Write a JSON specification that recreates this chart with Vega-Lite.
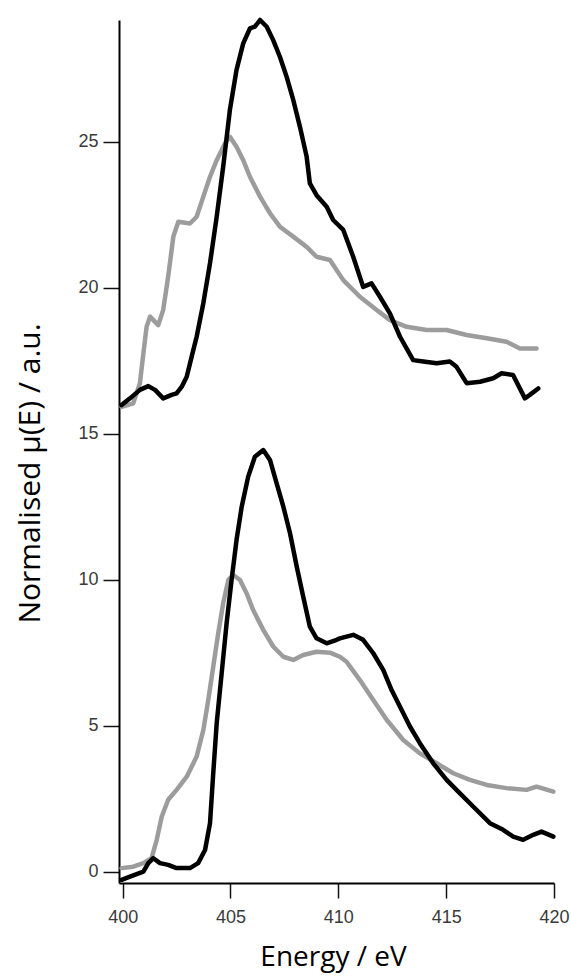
{
  "$schema": "https://vega.github.io/schema/vega-lite/v6.json",
  "width": 435,
  "height": 863,
  "autosize": {"type": "none"},
  "padding": {"left": 119, "top": 20, "right": 17, "bottom": 93},
  "background": "#ffffff",
  "config": {"view": {"stroke": null}},
  "data": {"values": [
    {"p":"upper","s":"black","e":399.95,"v":15.98},{"p":"upper","s":"black","e":400.34,"v":16.21},{"p":"upper","s":"black","e":400.8,"v":16.5},{"p":"upper","s":"black","e":401.19,"v":16.63},{"p":"upper","s":"black","e":401.5,"v":16.5},{"p":"upper","s":"black","e":401.88,"v":16.21},{"p":"upper","s":"black","e":402.27,"v":16.33},{"p":"upper","s":"black","e":402.5,"v":16.38},{"p":"upper","s":"black","e":402.74,"v":16.61},{"p":"upper","s":"black","e":402.97,"v":16.95},{"p":"upper","s":"black","e":403.2,"v":17.64},{"p":"upper","s":"black","e":403.43,"v":18.32},{"p":"upper","s":"black","e":403.74,"v":19.47},{"p":"upper","s":"black","e":404.05,"v":20.84},{"p":"upper","s":"black","e":404.36,"v":22.43},{"p":"upper","s":"black","e":404.66,"v":24.14},{"p":"upper","s":"black","e":404.97,"v":26.08},{"p":"upper","s":"black","e":405.28,"v":27.46},{"p":"upper","s":"black","e":405.59,"v":28.37},{"p":"upper","s":"black","e":405.9,"v":28.88},{"p":"upper","s":"black","e":406.13,"v":28.94},{"p":"upper","s":"black","e":406.37,"v":29.17},{"p":"upper","s":"black","e":406.68,"v":28.94},{"p":"upper","s":"black","e":406.98,"v":28.48},{"p":"upper","s":"black","e":407.29,"v":27.91},{"p":"upper","s":"black","e":407.6,"v":27.23},{"p":"upper","s":"black","e":407.91,"v":26.43},{"p":"upper","s":"black","e":408.22,"v":25.51},{"p":"upper","s":"black","e":408.53,"v":24.49},{"p":"upper","s":"black","e":408.68,"v":23.57},{"p":"upper","s":"black","e":408.99,"v":23.17},{"p":"upper","s":"black","e":409.46,"v":22.77},{"p":"upper","s":"black","e":409.76,"v":22.32},{"p":"upper","s":"black","e":410.23,"v":21.98},{"p":"upper","s":"black","e":410.69,"v":21.06},{"p":"upper","s":"black","e":411.15,"v":20.03},{"p":"upper","s":"black","e":411.54,"v":20.15},{"p":"upper","s":"black","e":411.93,"v":19.69},{"p":"upper","s":"black","e":412.39,"v":19.12},{"p":"upper","s":"black","e":412.86,"v":18.32},{"p":"upper","s":"black","e":413.47,"v":17.52},{"p":"upper","s":"black","e":413.94,"v":17.47},{"p":"upper","s":"black","e":414.56,"v":17.41},{"p":"upper","s":"black","e":415.17,"v":17.47},{"p":"upper","s":"black","e":415.48,"v":17.29},{"p":"upper","s":"black","e":415.95,"v":16.73},{"p":"upper","s":"black","e":416.57,"v":16.78},{"p":"upper","s":"black","e":417.18,"v":16.9},{"p":"upper","s":"black","e":417.57,"v":17.07},{"p":"upper","s":"black","e":418.1,"v":17.01},{"p":"upper","s":"black","e":418.65,"v":16.21},{"p":"upper","s":"black","e":418.88,"v":16.33},{"p":"upper","s":"black","e":419.27,"v":16.55},
    {"p":"upper","s":"gray","e":399.95,"v":15.92},{"p":"upper","s":"gray","e":400.49,"v":16.04},{"p":"upper","s":"gray","e":400.8,"v":16.73},{"p":"upper","s":"gray","e":400.96,"v":17.75},{"p":"upper","s":"gray","e":401.11,"v":18.66},{"p":"upper","s":"gray","e":401.27,"v":19.01},{"p":"upper","s":"gray","e":401.65,"v":18.72},{"p":"upper","s":"gray","e":401.88,"v":19.24},{"p":"upper","s":"gray","e":402.11,"v":20.38},{"p":"upper","s":"gray","e":402.35,"v":21.75},{"p":"upper","s":"gray","e":402.58,"v":22.26},{"p":"upper","s":"gray","e":403.12,"v":22.2},{"p":"upper","s":"gray","e":403.43,"v":22.43},{"p":"upper","s":"gray","e":403.74,"v":23.12},{"p":"upper","s":"gray","e":404.05,"v":23.8},{"p":"upper","s":"gray","e":404.36,"v":24.37},{"p":"upper","s":"gray","e":404.74,"v":24.94},{"p":"upper","s":"gray","e":404.97,"v":25.17},{"p":"upper","s":"gray","e":405.28,"v":24.83},{"p":"upper","s":"gray","e":405.59,"v":24.37},{"p":"upper","s":"gray","e":405.9,"v":23.8},{"p":"upper","s":"gray","e":406.37,"v":23.12},{"p":"upper","s":"gray","e":406.83,"v":22.55},{"p":"upper","s":"gray","e":407.29,"v":22.09},{"p":"upper","s":"gray","e":407.91,"v":21.75},{"p":"upper","s":"gray","e":408.53,"v":21.4},{"p":"upper","s":"gray","e":408.99,"v":21.06},{"p":"upper","s":"gray","e":409.61,"v":20.95},{"p":"upper","s":"gray","e":410.23,"v":20.26},{"p":"upper","s":"gray","e":411.0,"v":19.69},{"p":"upper","s":"gray","e":411.78,"v":19.24},{"p":"upper","s":"gray","e":412.39,"v":18.89},{"p":"upper","s":"gray","e":413.17,"v":18.66},{"p":"upper","s":"gray","e":414.09,"v":18.55},{"p":"upper","s":"gray","e":415.02,"v":18.55},{"p":"upper","s":"gray","e":415.95,"v":18.38},{"p":"upper","s":"gray","e":416.88,"v":18.27},{"p":"upper","s":"gray","e":417.8,"v":18.15},{"p":"upper","s":"gray","e":418.42,"v":17.92},{"p":"upper","s":"gray","e":419.19,"v":17.92},
    {"p":"lower","s":"black","e":399.95,"v":-0.28},{"p":"lower","s":"black","e":400.34,"v":-0.17},{"p":"lower","s":"black","e":400.96,"v":0.0},{"p":"lower","s":"black","e":401.19,"v":0.29},{"p":"lower","s":"black","e":401.42,"v":0.46},{"p":"lower","s":"black","e":401.73,"v":0.29},{"p":"lower","s":"black","e":402.11,"v":0.23},{"p":"lower","s":"black","e":402.5,"v":0.12},{"p":"lower","s":"black","e":403.12,"v":0.12},{"p":"lower","s":"black","e":403.5,"v":0.29},{"p":"lower","s":"black","e":403.82,"v":0.74},{"p":"lower","s":"black","e":404.05,"v":1.66},{"p":"lower","s":"black","e":404.2,"v":3.37},{"p":"lower","s":"black","e":404.36,"v":5.08},{"p":"lower","s":"black","e":404.59,"v":6.79},{"p":"lower","s":"black","e":404.82,"v":8.51},{"p":"lower","s":"black","e":405.05,"v":9.99},{"p":"lower","s":"black","e":405.28,"v":11.36},{"p":"lower","s":"black","e":405.52,"v":12.5},{"p":"lower","s":"black","e":405.82,"v":13.53},{"p":"lower","s":"black","e":406.13,"v":14.21},{"p":"lower","s":"black","e":406.52,"v":14.44},{"p":"lower","s":"black","e":406.83,"v":14.1},{"p":"lower","s":"black","e":407.14,"v":13.3},{"p":"lower","s":"black","e":407.45,"v":12.5},{"p":"lower","s":"black","e":407.76,"v":11.59},{"p":"lower","s":"black","e":408.07,"v":10.45},{"p":"lower","s":"black","e":408.37,"v":9.42},{"p":"lower","s":"black","e":408.68,"v":8.39},{"p":"lower","s":"black","e":408.99,"v":7.99},{"p":"lower","s":"black","e":409.46,"v":7.82},{"p":"lower","s":"black","e":409.92,"v":7.94},{"p":"lower","s":"black","e":410.07,"v":7.99},{"p":"lower","s":"black","e":410.69,"v":8.11},{"p":"lower","s":"black","e":411.15,"v":7.94},{"p":"lower","s":"black","e":411.62,"v":7.48},{"p":"lower","s":"black","e":412.08,"v":6.91},{"p":"lower","s":"black","e":412.47,"v":6.22},{"p":"lower","s":"black","e":412.86,"v":5.65},{"p":"lower","s":"black","e":413.32,"v":4.97},{"p":"lower","s":"black","e":413.78,"v":4.4},{"p":"lower","s":"black","e":414.4,"v":3.71},{"p":"lower","s":"black","e":415.02,"v":3.14},{"p":"lower","s":"black","e":415.64,"v":2.68},{"p":"lower","s":"black","e":416.25,"v":2.23},{"p":"lower","s":"black","e":417.03,"v":1.66},{"p":"lower","s":"black","e":417.64,"v":1.43},{"p":"lower","s":"black","e":418.11,"v":1.2},{"p":"lower","s":"black","e":418.57,"v":1.09},{"p":"lower","s":"black","e":419.04,"v":1.26},{"p":"lower","s":"black","e":419.42,"v":1.37},{"p":"lower","s":"black","e":419.97,"v":1.2},
    {"p":"lower","s":"gray","e":399.95,"v":0.12},{"p":"lower","s":"gray","e":400.49,"v":0.17},{"p":"lower","s":"gray","e":400.96,"v":0.29},{"p":"lower","s":"gray","e":401.34,"v":0.46},{"p":"lower","s":"gray","e":401.58,"v":1.09},{"p":"lower","s":"gray","e":401.81,"v":1.88},{"p":"lower","s":"gray","e":402.11,"v":2.46},{"p":"lower","s":"gray","e":402.5,"v":2.8},{"p":"lower","s":"gray","e":402.97,"v":3.25},{"p":"lower","s":"gray","e":403.43,"v":3.94},{"p":"lower","s":"gray","e":403.74,"v":4.85},{"p":"lower","s":"gray","e":403.97,"v":5.88},{"p":"lower","s":"gray","e":404.2,"v":7.02},{"p":"lower","s":"gray","e":404.43,"v":8.16},{"p":"lower","s":"gray","e":404.66,"v":9.19},{"p":"lower","s":"gray","e":404.9,"v":9.99},{"p":"lower","s":"gray","e":405.13,"v":10.16},{"p":"lower","s":"gray","e":405.44,"v":9.99},{"p":"lower","s":"gray","e":405.75,"v":9.53},{"p":"lower","s":"gray","e":406.05,"v":8.96},{"p":"lower","s":"gray","e":406.52,"v":8.28},{"p":"lower","s":"gray","e":406.98,"v":7.71},{"p":"lower","s":"gray","e":407.45,"v":7.36},{"p":"lower","s":"gray","e":407.91,"v":7.25},{"p":"lower","s":"gray","e":408.37,"v":7.42},{"p":"lower","s":"gray","e":408.99,"v":7.53},{"p":"lower","s":"gray","e":409.61,"v":7.5},{"p":"lower","s":"gray","e":410.07,"v":7.36},{"p":"lower","s":"gray","e":410.38,"v":7.19},{"p":"lower","s":"gray","e":411.0,"v":6.56},{"p":"lower","s":"gray","e":411.62,"v":5.88},{"p":"lower","s":"gray","e":412.24,"v":5.2},{"p":"lower","s":"gray","e":413.01,"v":4.51},{"p":"lower","s":"gray","e":413.78,"v":4.05},{"p":"lower","s":"gray","e":414.56,"v":3.71},{"p":"lower","s":"gray","e":415.33,"v":3.37},{"p":"lower","s":"gray","e":416.1,"v":3.14},{"p":"lower","s":"gray","e":416.88,"v":2.97},{"p":"lower","s":"gray","e":417.8,"v":2.86},{"p":"lower","s":"gray","e":418.73,"v":2.8},{"p":"lower","s":"gray","e":419.19,"v":2.91},{"p":"lower","s":"gray","e":419.97,"v":2.74}
  ]},
  "encoding": {
    "x": {
      "field": "e", "type": "quantitative",
      "scale": {"domain": [399.83, 420], "nice": false, "zero": false},
      "axis": {
        "values": [400, 405, 410, 415, 420],
        "title": "Energy / eV",
        "grid": false,
        "domainColor": "#000000", "domainWidth": 2,
        "tickColor": "#111111", "tickWidth": 1.5, "tickSize": 15,
        "labelFont": "Liberation Sans", "labelFontSize": 18, "labelColor": "#3a3a3a", "labelPadding": 10,
        "labelFlush": false,
        "titleFont": "Open Sans", "titleFontSize": 28, "titleFontWeight": "normal", "titleColor": "#000000",
        "titleX": 214, "titleY": 82, "titleBaseline": "alphabetic", "titleAlign": "center", "titleAnchor": null
      }
    },
    "y": {
      "field": "v", "type": "quantitative",
      "scale": {"domain": [-0.39, 29.17], "nice": false, "zero": false},
      "axis": {
        "values": [0, 5, 10, 15, 20, 25],
        "title": "Normalised μ(E) / a.u.",
        "grid": false,
        "domainColor": "#000000", "domainWidth": 2,
        "tickColor": "#111111", "tickWidth": 1.5, "tickSize": 16,
        "labelFont": "Liberation Sans", "labelFontSize": 18, "labelColor": "#3a3a3a", "labelPadding": 5,
        "labelFlush": false,
        "titleFont": "Open Sans", "titleFontSize": 30, "titleFontWeight": "normal", "titleColor": "#000000",
        "titleX": -80, "titleY": 453, "titleBaseline": "alphabetic", "titleAlign": "center", "titleAngle": -90, "titleAnchor": null
      }
    },
    "detail": {"field": "p", "type": "nominal"}
  },
  "layer": [
    {
      "transform": [{"filter": "datum.s === 'gray'"}],
      "mark": {"type": "line", "color": "#9c9c9c", "strokeWidth": 4.5, "strokeJoin": "round", "strokeCap": "round", "clip": false}
    },
    {
      "transform": [{"filter": "datum.s === 'black'"}],
      "mark": {"type": "line", "color": "#000000", "strokeWidth": 4.5, "strokeJoin": "round", "strokeCap": "round", "clip": false}
    }
  ]
}
